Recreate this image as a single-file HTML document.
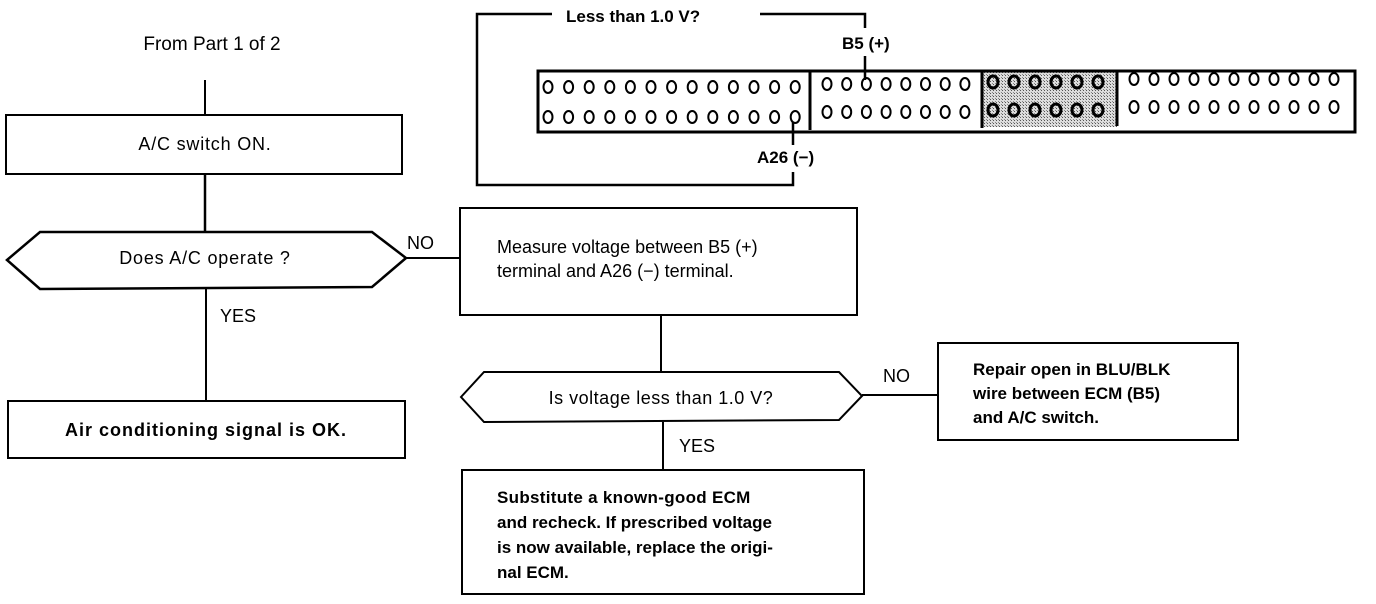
<!DOCTYPE html>
<html><head><style>
html,body{margin:0;padding:0;background:#fff;}
svg{display:block;}
text{font-family:"Liberation Sans",Arial,sans-serif;fill:#000;}
.b{font-weight:bold;}
</style></head><body>
<svg width="1376" height="604" viewBox="0 0 1376 604" xmlns="http://www.w3.org/2000/svg">
<defs>
<pattern id="dots" width="3" height="3" patternUnits="userSpaceOnUse">
<rect width="3" height="3" fill="#ddd"/><rect width="1" height="1" fill="#555"/><rect x="2" y="2" width="1" height="1" fill="#888"/>
</pattern>
</defs>
<g stroke="#000" fill="none">
<line x1="205" y1="80" x2="205" y2="115" stroke-width="2"/>
<rect x="6" y="115" width="396" height="59" stroke-width="2"/>
<line x1="205" y1="174" x2="205" y2="232" stroke-width="2.5"/>
<polygon points="7,260 40,232 372,232 406,258 372,287 40,289" stroke-width="2.5"/>
<line x1="206" y1="289" x2="206" y2="400" stroke-width="2"/>
<rect x="8" y="401" width="397" height="57" stroke-width="2"/>
<line x1="406" y1="258" x2="460" y2="258" stroke-width="2"/>
<rect x="460" y="208" width="397" height="107" stroke-width="2"/>
<line x1="661" y1="315" x2="661" y2="372" stroke-width="2"/>
<polygon points="461,397 484,372 839,372 862,396 839,420 484,422" stroke-width="2"/>
<line x1="862" y1="395" x2="938" y2="395" stroke-width="2"/>
<rect x="938" y="343" width="300" height="97" stroke-width="2"/>
<line x1="663" y1="422" x2="663" y2="470" stroke-width="2"/>
<rect x="462" y="470" width="402" height="124" stroke-width="2"/>
<polyline points="552,14 477,14 477,185 793,185 793,172" stroke-width="2.5"/>
<line x1="793" y1="145" x2="793" y2="122" stroke-width="2.5"/>
<polyline points="760,14 865,14 865,28" stroke-width="2.5"/>
<line x1="865" y1="56" x2="865" y2="80" stroke-width="2.5"/>
<rect x="982" y="70" width="135" height="57" fill="url(#dots)" stroke="none"/>
<rect x="538" y="71" width="817" height="61" stroke-width="3"/>
<line x1="810" y1="71" x2="810" y2="130" stroke-width="3"/>
<line x1="982" y1="70" x2="982" y2="128" stroke-width="3"/>
<line x1="1117" y1="70" x2="1117" y2="126" stroke-width="3"/>
</g>
<g id="pins" stroke="#000" fill="none" stroke-width="2">
<g id="r1">
<ellipse cx="548" cy="87" rx="4.5" ry="6"/><ellipse cx="568.6" cy="87" rx="4.5" ry="6"/><ellipse cx="589.2" cy="87" rx="4.5" ry="6"/><ellipse cx="609.8" cy="87" rx="4.5" ry="6"/><ellipse cx="630.4" cy="87" rx="4.5" ry="6"/><ellipse cx="651" cy="87" rx="4.5" ry="6"/><ellipse cx="671.6" cy="87" rx="4.5" ry="6"/><ellipse cx="692.2" cy="87" rx="4.5" ry="6"/><ellipse cx="712.8" cy="87" rx="4.5" ry="6"/><ellipse cx="733.4" cy="87" rx="4.5" ry="6"/><ellipse cx="754" cy="87" rx="4.5" ry="6"/><ellipse cx="774.6" cy="87" rx="4.5" ry="6"/><ellipse cx="795.2" cy="87" rx="4.5" ry="6"/>
</g>
<use href="#r1" y="30"/>
<g id="r2">
<ellipse cx="827" cy="84" rx="4.5" ry="6"/><ellipse cx="846.7" cy="84" rx="4.5" ry="6"/><ellipse cx="866.4" cy="84" rx="4.5" ry="6"/><ellipse cx="886.1" cy="84" rx="4.5" ry="6"/><ellipse cx="905.8" cy="84" rx="4.5" ry="6"/><ellipse cx="925.5" cy="84" rx="4.5" ry="6"/><ellipse cx="945.2" cy="84" rx="4.5" ry="6"/><ellipse cx="964.9" cy="84" rx="4.5" ry="6"/>
</g>
<use href="#r2" y="28"/>
<g id="r3" stroke-width="3">
<ellipse cx="993" cy="82" rx="5" ry="6"/><ellipse cx="1014" cy="82" rx="5" ry="6"/><ellipse cx="1035" cy="82" rx="5" ry="6"/><ellipse cx="1056" cy="82" rx="5" ry="6"/><ellipse cx="1077" cy="82" rx="5" ry="6"/><ellipse cx="1098" cy="82" rx="5" ry="6"/>
</g>
<use href="#r3" y="28"/>
<g id="r4">
<ellipse cx="1134" cy="79" rx="4.5" ry="6"/><ellipse cx="1154" cy="79" rx="4.5" ry="6"/><ellipse cx="1174" cy="79" rx="4.5" ry="6"/><ellipse cx="1194" cy="79" rx="4.5" ry="6"/><ellipse cx="1214" cy="79" rx="4.5" ry="6"/><ellipse cx="1234" cy="79" rx="4.5" ry="6"/><ellipse cx="1254" cy="79" rx="4.5" ry="6"/><ellipse cx="1274" cy="79" rx="4.5" ry="6"/><ellipse cx="1294" cy="79" rx="4.5" ry="6"/><ellipse cx="1314" cy="79" rx="4.5" ry="6"/><ellipse cx="1334" cy="79" rx="4.5" ry="6"/>
</g>
<use href="#r4" y="28"/>
</g>
<g font-size="18">
<text x="212" y="50" text-anchor="middle" font-size="19">From Part 1 of 2</text>
<text x="205" y="150" text-anchor="middle" font-size="18" letter-spacing="0.8">A/C switch ON.</text>
<text x="205" y="264" text-anchor="middle" font-size="18" letter-spacing="0.8">Does A/C operate ?</text>
<text x="407" y="249" font-size="18">NO</text>
<text x="220" y="322" font-size="18">YES</text>
<text x="206" y="436" text-anchor="middle" class="b" font-size="18" letter-spacing="1">Air conditioning signal is OK.</text>
<text x="497" y="253" font-size="18">Measure voltage between B5 (+)</text>
<text x="497" y="277" font-size="18">terminal and A26 (−) terminal.</text>
<text x="661" y="404" text-anchor="middle" font-size="18" letter-spacing="0.5">Is voltage less than 1.0 V?</text>
<text x="883" y="382" font-size="18">NO</text>
<text x="679" y="452" font-size="18">YES</text>
<text x="973" y="375" class="b" font-size="17">Repair open in BLU/BLK</text>
<text x="973" y="399" class="b" font-size="17">wire between ECM (B5)</text>
<text x="973" y="423" class="b" font-size="17">and A/C switch.</text>
<text x="497" y="503" class="b" font-size="17" letter-spacing="0.3">Substitute a known-good ECM</text>
<text x="497" y="528" class="b" font-size="17">and recheck. If prescribed voltage</text>
<text x="497" y="553" class="b" font-size="17">is now available, replace the origi-</text>
<text x="497" y="578" class="b" font-size="17">nal ECM.</text>
<text x="566" y="22" class="b" font-size="17">Less than 1.0 V?</text>
<text x="842" y="49" class="b" font-size="17">B5 (+)</text>
<text x="757" y="163" class="b" font-size="17">A26 (−)</text>
</g>
</svg>
</body></html>
